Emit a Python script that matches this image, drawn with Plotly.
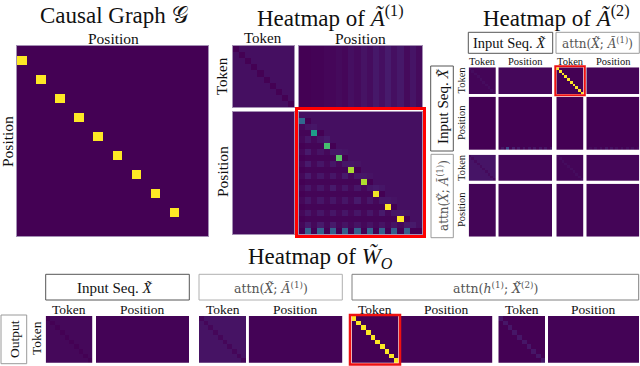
import plotly.graph_objects as go

W, H = 640, 366
SERIF = "Liberation Serif"

# ---------- data (viridis scale, 0..1) ----------
causal_rows = [1, 3, 5, 7, 9, 11, 13, 15, 17]
causal_cols = [0, 2, 4, 6, 8, 10, 12, 14, 16]
causal_vals = [1, 1, 1, 1, 1, 1, 1, 1, 1]

a1_tt_base = 0.04
a1_tp_columns = [0, 0, .005, .005, .015, .015, .025, .015, .04, .025, .05, .03, .065, .04, .075, .04, .065, .025, .055, .025]
a1_pt_base = 0.03
a1_pp = [
    [4, 4, 4, 4, 4, 4, 4, 4, 4, 4, 4, 4, 4, 4, 4, 4, 4, 4, 4, 4],
    [33, 0, 4, 4, 4, 4, 4, 4, 4, 4, 4, 4, 4, 4, 4, 4, 4, 4, 4, 4],
    [2, 5, 6, 4, 4, 4, 4, 4, 4, 4, 4, 4, 4, 4, 4, 4, 4, 4, 4, 4],
    [1, 1, 55, 0, 4, 4, 4, 4, 4, 4, 4, 4, 4, 4, 4, 4, 4, 4, 4, 4],
    [2, 6, 2, 5, 7, 4, 4, 4, 4, 4, 4, 4, 4, 4, 4, 4, 4, 4, 4, 4],
    [0, 1, 1, 1, 70, 0, 4, 4, 4, 4, 4, 4, 4, 4, 4, 4, 4, 4, 4, 4],
    [2, 7, 2, 5, 2, 6, 6, 5, 4, 4, 4, 4, 4, 4, 4, 4, 4, 4, 4, 4],
    [0, 1, 1, 1, 1, 1, 74, 0, 4, 4, 4, 4, 4, 4, 4, 4, 4, 4, 4, 4],
    [2, 7, 2, 6, 2, 6, 2, 6, 6, 5, 4, 4, 4, 4, 4, 4, 4, 4, 4, 4],
    [0, 1, 1, 1, 1, 1, 1, 1, 87, 0, 4, 4, 4, 4, 4, 4, 4, 4, 4, 4],
    [2, 7, 2, 6, 2, 6, 2, 7, 2, 6, 6, 5, 4, 4, 4, 4, 4, 4, 4, 4],
    [0, 1, 1, 1, 1, 1, 1, 1, 1, 1, 88, 0, 4, 4, 4, 4, 4, 4, 4, 4],
    [2, 6, 2, 6, 2, 7, 2, 6, 2, 6, 2, 6, 7, 6, 4, 4, 4, 4, 4, 4],
    [0, 1, 1, 1, 1, 1, 1, 1, 1, 1, 1, 1, 98, 0, 4, 4, 4, 4, 4, 4],
    [2, 6, 2, 6, 2, 6, 2, 6, 2, 7, 2, 6, 2, 6, 6, 5, 4, 4, 4, 4],
    [0, 1, 1, 1, 1, 1, 1, 1, 1, 1, 1, 1, 1, 1, 100, 0, 4, 4, 4, 4],
    [2, 6, 2, 6, 2, 6, 2, 6, 2, 6, 2, 6, 2, 7, 2, 6, 6, 5, 4, 4],
    [0, 1, 1, 1, 1, 1, 1, 1, 1, 1, 1, 1, 1, 1, 1, 1, 100, 0, 4, 4],
    [2, 7, 2, 7, 2, 7, 2, 5, 2, 5, 2, 5, 2, 5, 2, 5, 2, 6, 7, 4],
    [0, 31, 0, 31, 0, 31, 0, 31, 0, 31, 0, 31, 0, 31, 0, 30, 0, 30, 0, 0],
]

a2_pp_bottom = [0, .05, 0, .22, 0, .08, 0, .06, 0, .05, 0, .05, 0, .05, 0, .05, 0, .05, 0, .05]
a2_pp2_bottom = [0, .02, 0, .03, 0, .03, 0, .05, 0, .04, 0, .03, 0, .03, 0, .03, 0, .03, 0, .02]

# (token-block base, token-block diagonal) for the 10x10 panels
a2_token_panels = {
    "r1c1": (.012, .03), "r1c2": (.0, 1.0),
    "r3c1": (.055, .025), "r3c2": (.012, .03),
}
wo_token_panels = {
    "in": (.02, .0), "attn1": (.05, .015), "attn2": (.0, 1.0), "attn3": (.0, .06),
}

# flat position-block levels
a2_flat = {"r1c3": .018, "r1c4": .01, "r2c1": .0, "r2c3": .0,
           "r3c3": .015, "r3c4": .015, "r4c1": .01, "r4c2": .01, "r4c3": .01, "r4c4": .01}
wo_flat = {"in": .005, "attn1": .005, "attn2": .005, "attn3": .005}

title_causal = "Causal Graph 𝒢"
title_a1 = "Heatmap of <i>Ã</i><sup>(1)</sup>"
title_a2 = "Heatmap of <i>Ã</i><sup>(2)</sup>"
title_wo = "Heatmap of <i>W̃</i><sub><i>O</i></sub>"
lab_input = "Input Seq. <i>X̃</i>"
lab_attn1 = "attn(<i>X̃</i>; <i>Ã</i><sup>(1)</sup>)"
lab_attn2 = "attn(<i>h</i><sup>(1)</sup>; <i>X̃</i><sup>(2)</sup>)"


# ---------- helpers ----------
def diag_matrix(base, diag, n=10):
    return [[diag if r == c else base for c in range(n)] for r in range(n)]


def flat(level, nr, nc):
    return [[level] * nc for _ in range(nr)]


fig = go.Figure()
axis_i = [0]
EDGE = "#a48fb4"


def panel(z, x0, x1, y0, y1, edge=EDGE):
    axis_i[0] += 1
    i = axis_i[0]
    s = "" if i == 1 else str(i)
    fig.add_trace(go.Heatmap(z=z, colorscale="Viridis", zmin=0, zmax=1, showscale=False,
                             hoverinfo="skip", xaxis="x" + s, yaxis="y" + s))
    common = dict(showticklabels=False, ticks="", showgrid=False, zeroline=False,
                  showline=edge is not None, mirror=True, linecolor=edge or "#000000", linewidth=1)
    fig.layout["xaxis" + s] = dict(domain=[x0 / W, x1 / W], anchor="y" + s, **common)
    fig.layout["yaxis" + s] = dict(domain=[1 - y1 / H, 1 - y0 / H], anchor="x" + s,
                                   autorange="reversed", **common)


def text(t, x, y, size, angle=0, color="#111111", family=SERIF):
    fig.add_annotation(text=t, x=x / W, y=1 - y / H, xref="paper", yref="paper",
                       xanchor="center", yanchor="middle", showarrow=False, textangle=angle,
                       font=dict(family=family, size=size, color=color))


def box(x0, y0, x1, y1, color, width=1):
    fig.add_shape(type="rect", xref="paper", yref="paper", x0=x0 / W, x1=x1 / W,
                  y0=1 - y0 / H, y1=1 - y1 / H, line=dict(color=color, width=width),
                  fillcolor="rgba(0,0,0,0)")


# ---------- causal graph ----------
causal = flat(0, 20, 20)
for r, c, v in zip(causal_rows, causal_cols, causal_vals):
    causal[r][c] = v
panel(causal, 17, 208, 46, 236)

# ---------- A(1) ----------
panel(diag_matrix(a1_tt_base, 0.0), 233, 294, 46, 107)
panel([a1_tp_columns for _ in range(10)], 299, 422, 46, 107)
panel(flat(a1_pt_base, 20, 10), 233, 294, 112, 234)
panel([[v / 100 for v in row] for row in a1_pp], 299, 422, 112, 234)

# ---------- A(2) ----------
cx = [(468.7, 496), (498.3, 552), (556.3, 583.7), (586.3, 639.3)]
ry = [(67.3, 94), (96.7, 150), (154.7, 181), (183.7, 236.7)]
E2 = None
panel(diag_matrix(*a2_token_panels["r1c1"]), *cx[0], *ry[0], E2)
panel(flat(a2_flat["r1c3"], 10, 20), *cx[1], *ry[0], E2)
panel(diag_matrix(*a2_token_panels["r1c2"]), *cx[2], *ry[0], E2)
panel(flat(a2_flat["r1c4"], 10, 20), *cx[3], *ry[0], E2)
panel(flat(a2_flat["r2c1"], 20, 10), *cx[0], *ry[1], E2)
panel(flat(0, 19, 20) + [a2_pp_bottom], *cx[1], *ry[1], E2)
panel(flat(a2_flat["r2c3"], 20, 10), *cx[2], *ry[1], E2)
panel(flat(0, 19, 20) + [a2_pp2_bottom], *cx[3], *ry[1], E2)
panel(diag_matrix(*a2_token_panels["r3c1"]), *cx[0], *ry[2], E2)
panel(flat(a2_flat["r3c3"], 10, 20), *cx[1], *ry[2], E2)
panel(diag_matrix(*a2_token_panels["r3c2"]), *cx[2], *ry[2], E2)
panel(flat(a2_flat["r3c4"], 10, 20), *cx[3], *ry[2], E2)
panel(flat(a2_flat["r4c1"], 20, 10), *cx[0], *ry[3], E2)
panel(flat(a2_flat["r4c2"], 20, 20), *cx[1], *ry[3], E2)
panel(flat(a2_flat["r4c3"], 20, 10), *cx[2], *ry[3], E2)
panel(flat(a2_flat["r4c4"], 20, 20), *cx[3], *ry[3], E2)

# ---------- W_O ----------
by = (316, 362.7)
for (name, tx, px) in [("in", (45.7, 92.3), (96, 189.3)),
                       ("attn1", (199, 246), (248.7, 342.3)),
                       ("attn2", (351.7, 398.3), (400.7, 492.3)),
                       ("attn3", (498.3, 545), (548, 639.3))]:
    panel(diag_matrix(*wo_token_panels[name]), *tx, *by, E2)
    panel(flat(wo_flat[name], 10, 20), *px, *by, E2)

# ---------- titles and labels ----------
text(title_causal, 114, 15, 23)
text(title_a1, 330, 16, 23)
text(title_a2, 556, 16, 23)
text(title_wo, 320, 257, 23)

text("Position", 113, 38, 15.5)
text("Position", 7, 142, 15.5, -90)
text("Token", 263, 38, 15)
text("Position", 360, 38, 15.5)
text("Token", 222, 76, 15, -90)
text("Position", 222, 172, 15.5, -90)

for (x, t) in [(482, "Token"), (525, "Position"), (570, "Token"), (613, "Position")]:
    text(t, x, 62, 10.5)
for (y, t) in [(80.5, "Token"), (123, "Position"), (168, "Token"), (210, "Position")]:
    text(t, 461, y, 10.5, -90)

ATTN = "DejaVu Serif"
text(lab_input, 509.5, 43, 14.5)
text(lab_attn1, 597.5, 43, 12, 0, "#555555", ATTN)
text(lab_input, 443, 107, 15, -90)
text(lab_attn1, 443, 196, 12, -90, "#555555", ATTN)

text(lab_input, 114, 288, 15)
text(lab_attn1, 270.5, 288, 12.5, 0, "#555555", ATTN)
text(lab_attn2, 495, 288, 12.5, 0, "#555555", ATTN)

for (x, t) in [(69, "Token"), (142.5, "Position"), (222.5, "Token"), (295.5, "Position"),
               (375, "Token"), (446, "Position"), (522, "Token"), (593.5, "Position")]:
    text(t, x, 309.5, 13.5)
text("Output", 14, 339, 13.5, -90)
text("Token", 36, 338, 13.5, -90)

# ---------- frames ----------
box(468.3, 32.3, 552.7, 53.3, "#555555")
box(556, 32.3, 639.3, 53.3, "#9a9a9a")
box(430.7, 66, 453.3, 151, "#555555")
box(431, 154.3, 453.3, 237.7, "#9a9a9a")
box(45.7, 274.3, 189.3, 300, "#555555")
box(199, 274.3, 342.3, 300, "#b0b0b0")
box(352, 274.3, 638.7, 300, "#808080")
box(1, 315, 26.7, 363.7, "#9a9a9a")

box(296.5, 108.5, 424.5, 236.5, "#ff0000", 3)
box(555.3, 66.3, 584.8, 95.3, "#ee1111", 2)
box(350, 315, 400, 364.5, "#ee1111", 2.5)

fig.update_layout(width=W, height=H, margin=dict(l=0, r=0, t=0, b=0),
                  paper_bgcolor="white", plot_bgcolor="white", showlegend=False)
fig.write_html("out.html", config={"displayModeBar": False},
               post_script="document.body.style.margin='0';")
